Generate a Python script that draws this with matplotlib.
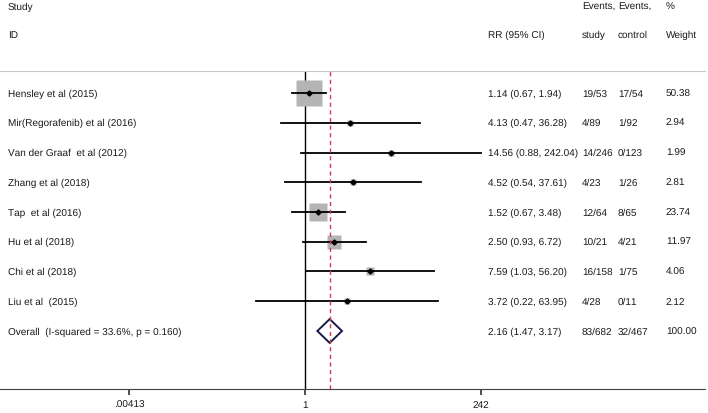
import numpy as np
import matplotlib
matplotlib.use("Agg")
import matplotlib.pyplot as plt
from matplotlib.transforms import blended_transform_factory

plt.rcParams['font.family'] = ['Liberation Sans', 'DejaVu Sans']
plt.rcParams['text.hinting'] = 'no_hinting'
plt.rcParams['text.hinting_factor'] = 1

studies = ["Hensley et al (2015)", "Mir(Regorafenib) et al (2016)",
           "Van der Graaf  et al (2012)", "Zhang et al (2018)", "Tap  et al (2016)",
           "Hu et al (2018)", "Chi et al (2018)", "Liu et al  (2015)"]
rr = [1.14, 4.13, 14.56, 4.52, 1.52, 2.50, 7.59, 3.72]
lo = [0.67, 0.47, 0.88, 0.54, 0.67, 0.93, 1.03, 0.22]
hi = [1.94, 36.28, 242.04, 37.61, 3.48, 6.72, 56.20, 63.95]
ev_study = ["19/53", "4/89", "14/246", "4/23", "12/64", "10/21", "16/158", "4/28"]
ev_ctrl = ["17/54", "1/92", "0/123", "1/26", "8/65", "4/21", "1/75", "0/11"]
weight = [50.38, 2.94, 1.99, 2.81, 23.74, 11.97, 4.06, 2.12]

overall_label = "Overall  (I-squared = 33.6%, p = 0.160)"
overall_rr, overall_lo, overall_hi = 2.16, 1.47, 3.17
overall_study, overall_ctrl, overall_w = "83/682", "32/467", "100.00"

xticks = [0.00413, 1, 242]
xtick_labels = [".00413", "1", "242"]

W, H = 708, 414
fig = plt.figure(figsize=(W / 100, H / 100), dpi=100)
ax = fig.add_axes([0, 24 / H, 705 / W, 318 / H])
ax.set_xscale('log')
# 1 at pixel 305, 73.8 px per decade
dec = 73.8
ax.set_xlim(10 ** (-305 / dec), 10 ** ((705 - 305) / dec))
ax.set_ylim(-9.95, 0.74)

for s in ['left', 'right']:
    ax.spines[s].set_visible(False)
ax.spines['top'].set_color('#c8c8c8')
ax.spines['bottom'].set_color('#404040')
ax.set_yticks([])
ax.set_xticks(xticks)
ax.set_xticklabels(xtick_labels)
ax.minorticks_off()

fs = 7.55
tc = '#1a1a1a'
ax.tick_params(axis='x', direction='out', length=4, width=1.2, color='#303030',
               labelsize=fs, pad=4, labelcolor=tc)
ys = -np.arange(len(studies))
y_over = -len(studies)

ax.axvline(1, color='black', lw=1, zorder=1)
ax.axvline(overall_rr, color='#b04858', lw=1, ls=(0, (3, 2.5)), zorder=4)

for i in range(len(studies)):
    side = 27 * np.sqrt(weight[i] / weight[0])
    ax.plot([rr[i]], [ys[i]], marker='s', ms=side * 0.72, color='#b4b4b4',
            mec='none', zorder=2)
    ax.plot([lo[i], hi[i]], [ys[i], ys[i]], color='black', lw=1.3, zorder=3)
    ax.plot([rr[i]], [ys[i]], marker='D', ms=2.6, color='black', zorder=3)

dx = [overall_lo, overall_rr, overall_hi, overall_rr, overall_lo]
dh = 0.40
dy = [y_over, y_over + dh, y_over, y_over - dh, y_over]
ax.fill(dx, dy, facecolor='white', edgecolor='#1a1a4d', lw=1.4, zorder=3)

tr = blended_transform_factory(fig.transFigure, ax.transData)
col_id = 8 / W
col_rr = 488 / W
col_s = 582 / W
col_c = 618 / W
col_w = 666 / W

kw = dict(transform=tr, fontsize=fs, color=tc, va='center', clip_on=False)
ax.text(col_id, 2.92, "Study", **kw)
ax.text(col_id, 1.98, "ID", **kw)
ax.text(col_rr, 1.98, "RR (95% CI)", **kw)
ax.text(col_s, 2.92, "Events,", **kw)
ax.text(col_s, 1.98, "study", **kw)
ax.text(col_c, 2.92, "Events,", **kw)
ax.text(col_c, 1.98, "control", **kw)
ax.text(col_w, 2.92, "%", **kw)
ax.text(col_w, 1.98, "Weight", **kw)

for i in range(len(studies)):
    ax.text(col_id, ys[i], studies[i], **kw)
    ax.text(col_rr, ys[i], "%.2f (%.2f, %.2f)" % (rr[i], lo[i], hi[i]), **kw)
    ax.text(col_s, ys[i], ev_study[i], **kw)
    ax.text(col_c, ys[i], ev_ctrl[i], **kw)
    ax.text(col_w, ys[i], "%.2f" % weight[i], **kw)

ax.text(col_id, y_over, overall_label, **kw)
ax.text(col_rr, y_over, "%.2f (%.2f, %.2f)" % (overall_rr, overall_lo, overall_hi), **kw)
ax.text(col_s, y_over, overall_study, **kw)
ax.text(col_c, y_over, overall_ctrl, **kw)
ax.text(col_w, y_over, overall_w, **kw)

fig.savefig("out.png", dpi=100)
